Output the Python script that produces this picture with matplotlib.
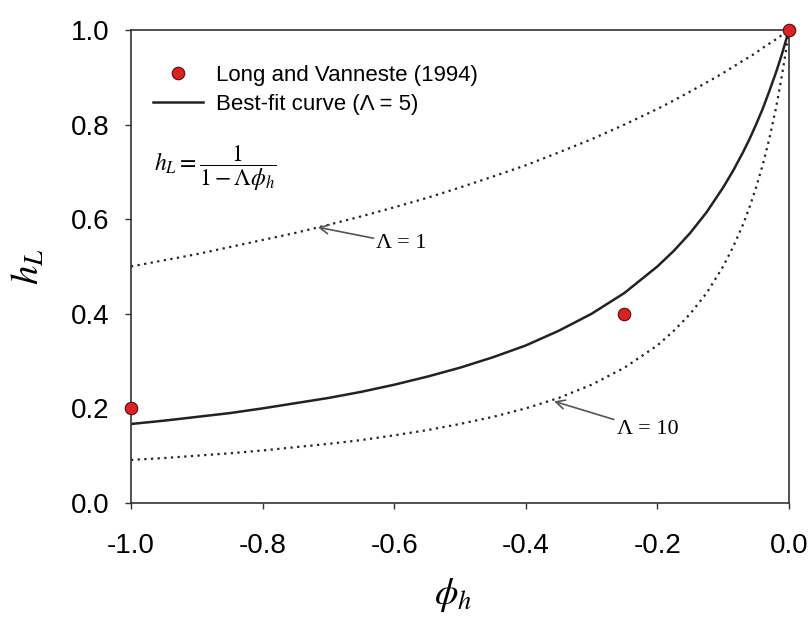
import matplotlib
matplotlib.use("Agg")
import matplotlib.pyplot as plt

plt.rcParams['font.family'] = ['Liberation Sans', 'DejaVu Sans']
plt.rcParams['mathtext.fontset'] = 'stix'

# curve values (phi_h -> h_L)
phi = [-1.0, -0.95, -0.9, -0.85, -0.8, -0.75, -0.7, -0.65, -0.6, -0.55,
       -0.5, -0.45, -0.4, -0.35, -0.3, -0.25, -0.2, -0.175, -0.15, -0.125,
       -0.1, -0.085, -0.07, -0.06, -0.05, -0.04, -0.03, -0.02, -0.015, -0.01,
       -0.005, 0.0]
h_lam1 = [0.500, 0.513, 0.526, 0.541, 0.556, 0.571, 0.588, 0.606, 0.625, 0.645,
          0.667, 0.690, 0.714, 0.741, 0.769, 0.800, 0.833, 0.851, 0.870, 0.889,
          0.909, 0.922, 0.935, 0.943, 0.952, 0.962, 0.971, 0.980, 0.985, 0.990,
          0.995, 1.0]
h_lam5 = [0.167, 0.174, 0.182, 0.190, 0.200, 0.211, 0.222, 0.235, 0.250, 0.267,
          0.286, 0.308, 0.333, 0.364, 0.400, 0.444, 0.500, 0.533, 0.571, 0.615,
          0.667, 0.702, 0.741, 0.769, 0.800, 0.833, 0.870, 0.909, 0.930, 0.952,
          0.976, 1.0]
h_lam10 = [0.091, 0.095, 0.100, 0.105, 0.111, 0.118, 0.125, 0.133, 0.143, 0.154,
           0.167, 0.182, 0.200, 0.222, 0.250, 0.286, 0.333, 0.364, 0.400, 0.444,
           0.500, 0.541, 0.588, 0.625, 0.667, 0.714, 0.769, 0.833, 0.870, 0.909,
           0.952, 1.0]

# measured points (Long and Vanneste 1994)
obs_phi = [-1.0, -0.25, 0.0]
obs_h = [0.2, 0.4, 1.0]

xticks = [-1.0, -0.8, -0.6, -0.4, -0.2, 0.0]
yticks = [0.0, 0.2, 0.4, 0.6, 0.8, 1.0]

fig = plt.figure(figsize=(8.12, 6.18), dpi=100)
ax = fig.add_axes([0.1613, 0.1861, 0.8103, 0.7654])

ax.plot(phi, h_lam1, color='#222222', lw=1.6, linestyle=(0, (1, 2)))
ax.plot(phi, h_lam10, color='#222222', lw=1.6, linestyle=(0, (1, 2)))
ax.plot(phi, h_lam5, color='#222222', lw=1.8, label='Best-fit curve (Λ = 5)')
ax.plot(obs_phi, obs_h, 'o', color='#dd2020', mec='#551010', mew=0.8, ms=9,
        clip_on=False, zorder=5, label='Long and Vanneste (1994)')

ax.set_xlim(-1.0, 0.0)
ax.set_ylim(0.0, 1.0)
ax.set_xticks(xticks)
ax.set_yticks(yticks)
ax.set_xticklabels(['%.1f' % v for v in xticks])
ax.set_yticklabels(['%.1f' % v for v in yticks])
ax.tick_params(axis='x', direction='out', length=4.3, width=1, labelsize=20, pad=17, color='#333333')
ax.tick_params(axis='y', direction='out', length=4.3, width=1, labelsize=20, pad=11, color='#333333')
for s in ax.spines.values():
    s.set_color('#333333')
    s.set_linewidth(1.2)

ax.set_ylabel(r'$h_L$', fontsize=28)
ax.yaxis.set_label_coords(-0.128, 0.5)
ax.set_xlabel(r'$\phi_h$', fontsize=27)
ax.xaxis.set_label_coords(0.49, -0.155)

handles, labels = ax.get_legend_handles_labels()
ax.legend(handles[::-1], labels[::-1], loc='upper left', bbox_to_anchor=(0.033, 0.927),
          frameon=False, fontsize=16, borderpad=0, borderaxespad=0,
          handlelength=2.25, handletextpad=0.6, labelspacing=0.37)

ax.text(-0.965, 0.708, r'$h_L = \dfrac{1}{1 - \Lambda\phi_h}$', fontsize=17, va='center', ha='left')

arrow = dict(arrowstyle='->', color='#555555', lw=1.2, shrinkA=0, shrinkB=0)
ax.annotate('Λ = 1', xy=(-0.716, 0.583), xytext=(-0.627, 0.548),
            fontsize=16, family='Liberation Serif', va='center', ha='left',
            arrowprops=arrow)
ax.annotate('Λ = 10', xy=(-0.357, 0.215), xytext=(-0.262, 0.155),
            fontsize=16, family='Liberation Serif', va='center', ha='left',
            arrowprops=arrow)

fig.savefig('out.png', dpi=100)
